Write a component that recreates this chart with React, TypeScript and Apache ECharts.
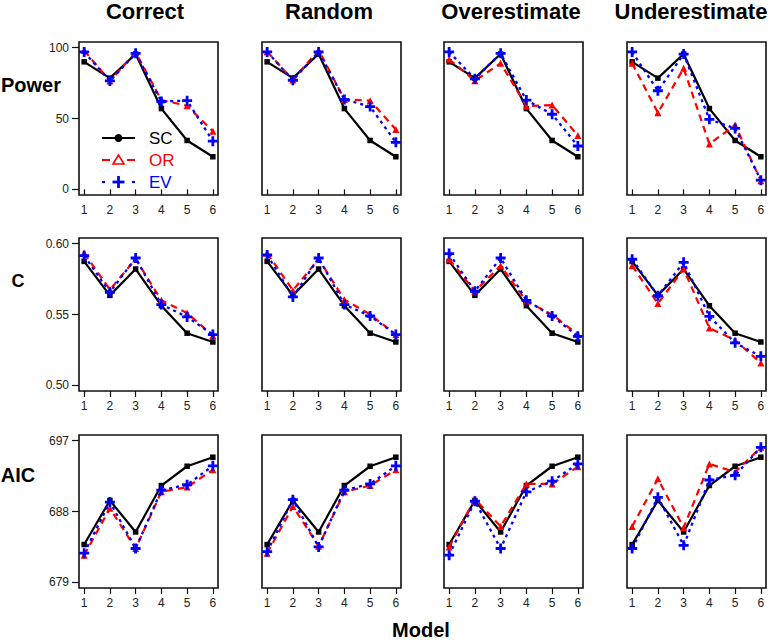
import { useEffect, useRef } from 'react';
import * as echarts from 'echarts';

// ---------- data ----------
const models = [1, 2, 3, 4, 5, 6];
const scenarios = ['Correct', 'Random', 'Overestimate', 'Underestimate'];
const metrics = ['Power', 'C', 'AIC'];
const methods = ['SC', 'OR', 'EV'];

// Power (one array per scenario: Correct, Random, Overestimate, Underestimate)
const powerSC = [
  [90, 78.5, 95.5, 57, 34.5, 23],
  [90, 78.5, 95.5, 57, 34.5, 23],
  [90, 78.5, 95.5, 57, 34.5, 23],
  [90, 78.5, 95.5, 57, 34.5, 23],
];
const powerOR = [
  [98, 76.5, 96.7, 63, 59, 41],
  [97.2, 77.2, 98.4, 63.5, 62.6, 42.3],
  [91.8, 76.7, 89, 58.8, 59.5, 38],
  [89, 54, 85.4, 32, 45.4, 6],
];
const powerEV = [
  [97, 76.5, 96, 62, 62.6, 34],
  [97, 77, 97, 63.5, 58.4, 33.2],
  [97, 78, 96, 63, 53, 30.6],
  [97, 69.6, 95.5, 49.4, 43, 6.5],
];

// C statistic
const cSC = [
  [0.5875, 0.5635, 0.5821, 0.5562, 0.5368, 0.5306],
  [0.5875, 0.5635, 0.5821, 0.5562, 0.5368, 0.5306],
  [0.5875, 0.5635, 0.5821, 0.5562, 0.5368, 0.5306],
  [0.5875, 0.5635, 0.5821, 0.5562, 0.5368, 0.5306],
];
const cOR = [
  [0.5934, 0.5675, 0.5892, 0.56, 0.5511, 0.535],
  [0.5934, 0.567, 0.5892, 0.5605, 0.55, 0.5358],
  [0.589, 0.5664, 0.5845, 0.5593, 0.55, 0.5358],
  [0.5845, 0.5577, 0.5821, 0.5405, 0.5318, 0.5158],
];
const cEV = [
  [0.5915, 0.5657, 0.5899, 0.557, 0.5483, 0.5358],
  [0.592, 0.5624, 0.5899, 0.557, 0.549, 0.5358],
  [0.593, 0.5664, 0.5899, 0.56, 0.549, 0.5346],
  [0.589, 0.5633, 0.5868, 0.5487, 0.53, 0.5205],
];

// AIC
const aicSC = [
  [683.8, 689.4, 685.4, 691.3, 693.75, 694.9],
  [683.8, 689.4, 685.4, 691.3, 693.75, 694.9],
  [683.8, 689.4, 685.4, 691.3, 693.75, 694.9],
  [683.8, 689.4, 685.4, 691.3, 693.75, 694.9],
];
const aicOR = [
  [682.45, 688.4, 683.3, 690.5, 691.1, 693.3],
  [682.7, 688.65, 683.6, 690.5, 691.3, 693.3],
  [683.5, 689.6, 686.1, 691.5, 691.5, 693.7],
  [686.1, 692.15, 685.95, 694.05, 693, 696.15],
];
const aicEV = [
  [682.7, 689.2, 683.3, 690.7, 691.4, 693.8],
  [682.9, 689.5, 683.5, 690.7, 691.5, 693.8],
  [682.45, 689.3, 683.3, 690.5, 691.85, 694.05],
  [683.3, 689.8, 683.7, 692, 692.6, 696.15],
];

// y tick labels per metric row
const powerTicks = [0, 50, 100];
const cTicks = [0.5, 0.55, 0.6];
const aicTicks = [679, 688, 697];
const yLimits = [
  [0, 100],
  [0.5, 0.6],
  [679, 697],
];

// ---------- layout / style ----------
const COL_LEFT = [79, 262, 444, 627];
const ROW_TOP = [42, 238, 435];
const PW = 139;
const PH = 153;
const FONT = 'Liberation Sans, Arial, sans-serif';
const COLORS = { SC: '#000000', OR: '#ff0000', EV: '#0000ff' };
const PLUS = 'path://M3.6,0H6.4V3.6H10V6.4H6.4V10H3.6V6.4H0V3.6H3.6Z';

const dataByMetric = [
  [powerSC, powerOR, powerEV],
  [cSC, cOR, cEV],
  [aicSC, aicOR, aicEV],
];
const ticksByMetric = [powerTicks, cTicks, aicTicks];

export default function App() {
  const ref = useRef<HTMLDivElement>(null);

  useEffect(() => {
    const chart = echarts.init(ref.current!, null, { renderer: 'svg' });
    const grid: any[] = [];
    const xAxis: any[] = [];
    const yAxis: any[] = [];
    const series: any[] = [];

    metrics.forEach((_, r) => {
      const [lo, hi] = yLimits[r];
      const pad = (hi - lo) * 0.04;
      scenarios.forEach((__, c) => {
        const idx = grid.length;
        grid.push({
          left: COL_LEFT[c],
          top: ROW_TOP[r],
          width: PW,
          height: PH,
          show: true,
          borderColor: '#111',
          borderWidth: 1.6,
          backgroundColor: 'transparent',
          containLabel: false,
        });
        xAxis.push({
          type: 'value',
          gridIndex: idx,
          min: 0.8,
          max: 6.2,
          axisLine: { show: false },
          splitLine: { show: false },
          axisTick: {
            show: true,
            length: 6,
            customValues: models,
            lineStyle: { color: '#111', width: 1.2 },
          },
          axisLabel: {
            show: true,
            customValues: models,
            fontSize: 12,
            fontFamily: FONT,
            color: '#222',
            margin: 9,
          },
        });
        yAxis.push({
          type: 'value',
          gridIndex: idx,
          min: lo - pad,
          max: hi + pad,
          axisLine: { show: false },
          splitLine: { show: false },
          axisTick: {
            show: c === 0,
            length: 7,
            customValues: ticksByMetric[r],
            lineStyle: { color: '#111', width: 1.2 },
          },
          axisLabel: {
            show: c === 0,
            customValues: ticksByMetric[r],
            fontSize: 12,
            fontFamily: FONT,
            color: '#222',
            margin: 10,
            formatter: (v: number) => (r === 1 ? v.toFixed(2) : String(Math.round(v))),
          },
        });
        const [scArr, orArr, evArr] = dataByMetric[r];
        const mk = (name: string, arr: number[][], extra: any) => ({
          name,
          type: 'line',
          xAxisIndex: idx,
          yAxisIndex: idx,
          data: models.map((m, i) => [m, arr[c][i]]),
          silent: true,
          ...extra,
        });
        series.push(
          mk('SC', scArr, {
            symbol: 'rect',
            symbolSize: 5.5,
            itemStyle: { color: COLORS.SC },
            lineStyle: { color: COLORS.SC, width: 2.2 },
            z: 2,
          }),
          mk('OR', orArr, {
            symbol: 'triangle',
            symbolSize: 7,
            itemStyle: { color: COLORS.OR },
            lineStyle: { color: COLORS.OR, width: 2.2, type: [7, 5] },
            z: 3,
          }),
          mk('EV', evArr, {
            symbol: PLUS,
            symbolSize: 10,
            itemStyle: { color: COLORS.EV },
            lineStyle: { color: COLORS.EV, width: 2.3, type: [3, 4] },
            z: 4,
          }),
        );
      });
    });

    const titleCenters = [145, 329, 511, 691];
    const graphic: any[] = [];
    scenarios.forEach((s, c) => {
      graphic.push({
        type: 'text',
        x: titleCenters[c],
        y: 0,
        style: {
          text: s,
          fill: '#000',
          font: `bold 22px ${FONT}`,
          lineHeight: 22,
          textAlign: 'center',
          textVerticalAlign: 'top',
        },
      });
    });
    const rowLabelPos = [
      { x: 31, y: 85, size: 20 },
      { x: 18, y: 281, size: 18 },
      { x: 18, y: 475, size: 20 },
    ];
    metrics.forEach((m, r) => {
      graphic.push({
        type: 'text',
        x: rowLabelPos[r].x,
        y: rowLabelPos[r].y,
        style: {
          text: m,
          fill: '#000',
          font: `bold ${rowLabelPos[r].size}px ${FONT}`,
          textAlign: 'center',
          textVerticalAlign: 'middle',
        },
      });
    });
    graphic.push({
      type: 'text',
      x: 421,
      y: 640,
      style: {
        text: 'Model',
        fill: '#000',
        font: `bold 20px ${FONT}`,
        lineHeight: 20,
        textAlign: 'center',
        textVerticalAlign: 'bottom',
      },
    });

    // legend (drawn manually to match R's legend look)
    const legY = [138, 160, 182];
    const lx0 = 102;
    const lx1 = 135;
    const lxc = 118.5;
    // SC
    graphic.push({
      type: 'line',
      shape: { x1: lx0, y1: legY[0], x2: lx1, y2: legY[0] },
      style: { stroke: COLORS.SC, lineWidth: 2 },
    });
    graphic.push({
      type: 'circle',
      shape: { cx: lxc, cy: legY[0], r: 4 },
      style: { fill: COLORS.SC },
    });
    // OR
    graphic.push({
      type: 'line',
      shape: { x1: lx0, y1: legY[1], x2: 110, y2: legY[1] },
      style: { stroke: COLORS.OR, lineWidth: 2 },
    });
    graphic.push({
      type: 'line',
      shape: { x1: 127, y1: legY[1], x2: lx1, y2: legY[1] },
      style: { stroke: COLORS.OR, lineWidth: 2 },
    });
    graphic.push({
      type: 'polygon',
      shape: {
        points: [
          [lxc, legY[1] - 5],
          [lxc - 5.5, legY[1] + 4],
          [lxc + 5.5, legY[1] + 4],
        ],
      },
      style: { fill: 'none', stroke: COLORS.OR, lineWidth: 1.6 },
    });
    // EV
    graphic.push({
      type: 'line',
      shape: { x1: lx0, y1: legY[2], x2: 105, y2: legY[2] },
      style: { stroke: COLORS.EV, lineWidth: 2.2 },
    });
    graphic.push({
      type: 'line',
      shape: { x1: 132, y1: legY[2], x2: lx1, y2: legY[2] },
      style: { stroke: COLORS.EV, lineWidth: 2.2 },
    });
    graphic.push({
      type: 'line',
      shape: { x1: lxc - 6, y1: legY[2], x2: lxc + 6, y2: legY[2] },
      style: { stroke: COLORS.EV, lineWidth: 2.8 },
    });
    graphic.push({
      type: 'line',
      shape: { x1: lxc, y1: legY[2] - 6, x2: lxc, y2: legY[2] + 6 },
      style: { stroke: COLORS.EV, lineWidth: 2.8 },
    });
    methods.forEach((m, i) => {
      graphic.push({
        type: 'text',
        x: 149,
        y: legY[i],
        style: {
          text: m,
          fill: (COLORS as any)[m],
          font: `17px ${FONT}`,
          textAlign: 'left',
          textVerticalAlign: 'middle',
        },
      });
    });

    chart.setOption({
      animation: false,
      backgroundColor: '#ffffff',
      grid,
      xAxis,
      yAxis,
      series,
      graphic,
    });
    return () => chart.dispose();
  }, []);

  return (
    <div
      ref={ref}
      style={{ position: 'fixed', left: 0, top: 0, width: 774, height: 640, background: '#fff' }}
    />
  );
}
